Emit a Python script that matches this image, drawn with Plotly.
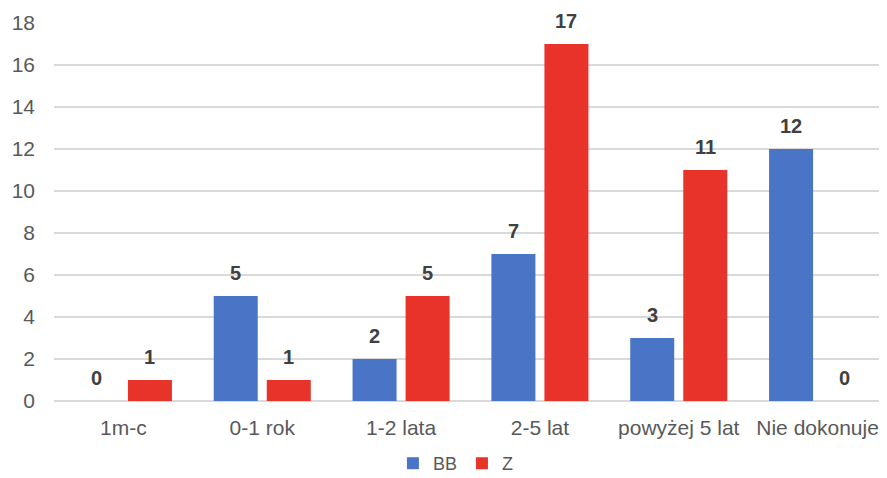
import plotly.graph_objects as go

categories = ["1m-c", "0-1 rok", "1-2 lata", "2-5 lat", "powyżej 5 lat", "Nie dokonuje"]
bb_values = [0, 5, 2, 7, 3, 12]
z_values = [1, 1, 5, 17, 11, 0]
y_ticks = [0, 2, 4, 6, 8, 10, 12, 14, 16, 18]

font_family = "Liberation Sans, Arial, sans-serif"
label_font = dict(family=font_family, size=20, color="#404040")

fig = go.Figure()
fig.add_trace(go.Bar(
    name="BB", x=categories, y=bb_values,
    marker=dict(color="#4a75c6", line=dict(width=0)),
))
fig.add_trace(go.Bar(
    name="Z", x=categories, y=z_values,
    marker=dict(color="#e8332b", line=dict(width=0)),
))

# value labels above bars
for vals, shift in ((bb_values, -26.5), (z_values, 26.5)):
    for c, v in zip(categories, vals):
        fig.add_annotation(x=c, y=v, text=f"<b>{v}</b>", showarrow=False,
                           xshift=shift, yshift=23, yanchor="middle",
                           font=label_font)

fig.update_layout(
    width=887, height=478,
    margin=dict(l=46, r=8, t=15, b=85),
    paper_bgcolor="white", plot_bgcolor="white",
    barmode="group", bargap=0.236, bargroupgap=0.17,
    font=dict(family=font_family, size=21, color="#595959"),
    legend=dict(orientation="h", x=0.505, xanchor="center", xref="container",
                y=0.047, yanchor="middle", yref="container",
                font=dict(size=18, color="#595959"), itemwidth=30,
                tracegroupgap=0),
    showlegend=True,
)
fig.update_xaxes(showline=False, ticks="", automargin=False, ticklabelstandoff=12,
                 tickfont=dict(size=21, color="#595959"))
fig.update_yaxes(range=[0, 18], tickvals=y_ticks, showgrid=True, gridcolor="#d9d9d9",
                 gridwidth=1.5, zeroline=True, zerolinecolor="#d9d9d9", zerolinewidth=1.5,
                 automargin=False, ticks="", ticklabelstandoff=18,
                 tickfont=dict(size=21, color="#595959"))

fig.write_html("out.html")
